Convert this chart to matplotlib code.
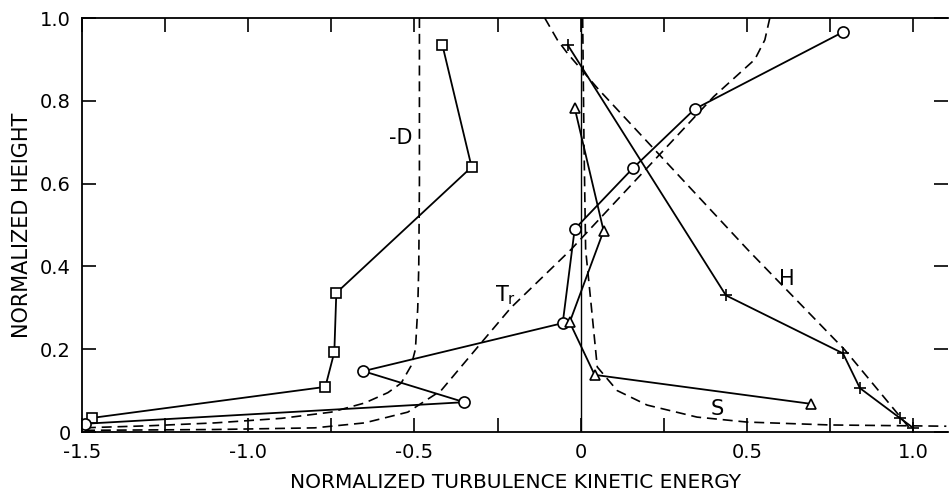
import matplotlib
matplotlib.use("Agg")
import matplotlib.pyplot as plt

# measured profiles (x = normalized TKE term, y = normalized height)
sq_x = [-0.416, -0.328, -0.735, -0.741, -0.768, -1.47]
sq_y = [0.935, 0.64, 0.336, 0.193, 0.109, 0.034]

circ_x = [0.789, 0.343, 0.157, -0.018, -0.054, -0.654, -0.35, -1.49]
circ_y = [0.966, 0.78, 0.637, 0.49, 0.263, 0.147, 0.072, 0.02]

tri_x = [-0.018, 0.069, -0.033, 0.042, 0.693]
tri_y = [0.783, 0.486, 0.265, 0.138, 0.068]

plus_x = [-0.039, 0.437, 0.789, 0.84, 0.96, 1.0]
plus_y = [0.935, 0.33, 0.19, 0.106, 0.034, 0.01]

# dashed model curves
negD_x = [-0.485, -0.485, -0.487, -0.49, -0.497, -0.51, -0.54, -0.58, -0.65,
          -0.75, -0.9, -1.1, -1.3, -1.5]
negD_y = [1.0, 0.6, 0.4, 0.3, 0.2, 0.16, 0.118, 0.095, 0.07, 0.048, 0.033,
          0.022, 0.015, 0.01]

tr_x = [0.569, 0.554, 0.524, 0.4, -0.03, -0.21, -0.31, -0.42, -0.52, -0.65,
        -0.8, -1.1, -1.5]
tr_y = [1.0, 0.947, 0.9, 0.81, 0.44, 0.30, 0.205, 0.10, 0.048, 0.022, 0.01,
        0.006, 0.004]

h_x = [-0.108, -0.07, -0.04, 0.051, 0.503, 0.795, 0.994]
h_y = [1.0, 0.947, 0.915, 0.83, 0.44, 0.198, 0.005]

s_x = [0.006, 0.01, 0.015, 0.03, 0.05, 0.11, 0.2, 0.35, 0.5, 0.75, 1.1]
s_y = [1.0, 0.7, 0.44, 0.32, 0.157, 0.10, 0.065, 0.036, 0.024, 0.017, 0.014]

xticks = [-1.5, -1.25, -1.0, -0.75, -0.5, -0.25, 0, 0.25, 0.5, 0.75, 1.0]
xlabels = ["-1.5", "", "-1.0", "", "-0.5", "", "0", "", "0.5", "", "1.0"]
yticks = [0, 0.2, 0.4, 0.6, 0.8, 1.0]
ylabels = ["0", "0.2", "0.4", "0.6", "0.8", "1.0"]

fig = plt.figure(figsize=(9.5, 4.9), dpi=100)
ax = fig.add_axes([82 / 950, 58 / 490, 866 / 950, 414 / 490])

dash = dict(color="black", lw=1.2, ls=(0, (6, 3.5)))
ax.plot(negD_x, negD_y, **dash)
ax.plot(tr_x, tr_y, **dash)
ax.plot(h_x, h_y, **dash)
ax.plot(s_x, s_y, **dash)

ax.axvline(0, color="black", lw=1.0)

solid = dict(color="black", lw=1.3, mfc="white", mec="black", mew=1.2)
ax.plot(sq_x, sq_y, marker="s", ms=7, **solid)
ax.plot(circ_x, circ_y, marker="o", ms=8, **solid)
ax.plot(tri_x, tri_y, marker="^", ms=7, **solid)
ax.plot(plus_x, plus_y, marker="+", ms=8, **solid)

ax.text(-0.54, 0.71, "-D", fontsize=15, ha="center", va="center")
ax.text(-0.225, 0.33, "T$_\\mathregular{r}$", fontsize=15, ha="center", va="center")
ax.text(0.62, 0.37, "H", fontsize=15, ha="center", va="center")
ax.text(0.41, 0.055, "S", fontsize=15, ha="center", va="center")

ax.set_xlim(-1.5, 1.105)
ax.set_ylim(0, 1.0)
ax.set_xticks(xticks)
ax.set_xticklabels(xlabels)
ax.set_yticks(yticks)
ax.set_yticklabels(ylabels)
ax.tick_params(direction="in", length=10, width=1.2, labelsize=14,
               top=True, right=True)
ax.tick_params(axis="x", pad=8)
ax.tick_params(axis="y", pad=8)
for side in ["left", "bottom", "top"]:
    ax.spines[side].set_linewidth(1.3)
ax.spines["right"].set_visible(False)

ax.set_xlabel("NORMALIZED TURBULENCE KINETIC ENERGY", fontsize=14.5)
ax.xaxis.set_label_coords(0.5, -0.098)
ax.set_ylabel("NORMALIZED HEIGHT", fontsize=15, labelpad=6)

fig.savefig("out.png", dpi=100, facecolor="white")
